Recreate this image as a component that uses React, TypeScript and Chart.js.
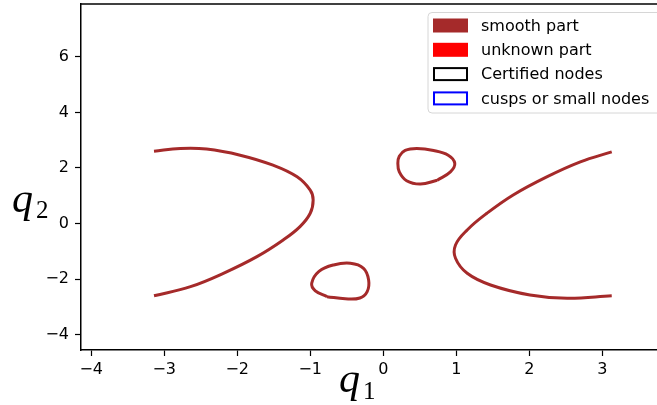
import React, { useEffect, useRef } from "react";
import { Chart, registerables } from "chart.js";

Chart.register(...registerables);

// Left branch of the curve
const leftBranchX = [-3.14, -2.78, -2.42, -1.96, -1.51, -1.18, -1.0, -0.96, -1.0, -1.14, -1.37, -1.73, -2.19, -2.64, -3.14];
const leftBranchY = [2.6, 2.7, 2.68, 2.46, 2.1, 1.68, 1.2, 0.85, 0.37, -0.11, -0.59, -1.19, -1.79, -2.27, -2.6];

// Right branch of the curve
const rightBranchX = [3.13, 2.7, 2.24, 1.78, 1.42, 1.15, 0.99, 0.99, 1.15, 1.47, 2.01, 2.52, 3.13];
const rightBranchY = [2.58, 2.22, 1.68, 1.03, 0.37, -0.23, -0.77, -1.25, -1.79, -2.21, -2.57, -2.69, -2.6];

// Upper oval (closed loop)
const upperOvalX = [0.74, 0.51, 0.32, 0.22, 0.2, 0.22, 0.3, 0.46, 0.69, 0.89, 0.98, 0.92, 0.74];
const upperOvalY = [1.56, 1.42, 1.54, 1.86, 2.17, 2.42, 2.63, 2.7, 2.63, 2.46, 2.17, 1.86, 1.56];

// Lower oval (closed loop)
const lowerOvalX = [-0.77, -0.93, -0.98, -0.88, -0.68, -0.45, -0.27, -0.2, -0.22, -0.32, -0.52, -0.77];
const lowerOvalY = [-2.63, -2.42, -2.15, -1.72, -1.49, -1.43, -1.61, -2.03, -2.45, -2.68, -2.71, -2.63];

const xTicks = [-4, -3, -2, -1, 0, 1, 2, 3];
const yTicks = [-4, -2, 0, 2, 4, 6];

const legendLabels = ["smooth part", "unknown part", "Certified nodes", "cusps or small nodes"];
const SMOOTH = "#a52a2a";

const toPts = (xs: number[], ys: number[]) => xs.map((x, i) => ({ x, y: ys[i] }));

const fmt = (v: number) => String(v).replace("-", "\u2212");

const framePlugin = {
  id: "framePlugin",
  afterDraw(chart: any) {
    const { ctx, chartArea } = chart;
    ctx.save();
    // top spine
    ctx.strokeStyle = "#000";
    ctx.lineWidth = 1.5;
    ctx.beginPath();
    ctx.moveTo(chartArea.left - 0.75, chartArea.top);
    ctx.lineTo(chartArea.right + 2, chartArea.top);
    ctx.stroke();

    // legend
    const lx = 428, ly = 12.5, lw = 260, lh = 100.5, r = 4;
    ctx.beginPath();
    ctx.moveTo(lx + r, ly);
    ctx.lineTo(lx + lw - r, ly);
    ctx.arcTo(lx + lw, ly, lx + lw, ly + r, r);
    ctx.lineTo(lx + lw, ly + lh - r);
    ctx.arcTo(lx + lw, ly + lh, lx + lw - r, ly + lh, r);
    ctx.lineTo(lx + r, ly + lh);
    ctx.arcTo(lx, ly + lh, lx, ly + lh - r, r);
    ctx.lineTo(lx, ly + r);
    ctx.arcTo(lx, ly, lx + r, ly, r);
    ctx.closePath();
    ctx.fillStyle = "rgba(255,255,255,0.8)";
    ctx.fill();
    ctx.strokeStyle = "#d6d6d6";
    ctx.lineWidth = 1;
    ctx.stroke();

    const styles = [
      { fill: SMOOTH, stroke: null },
      { fill: "#ff0000", stroke: null },
      { fill: "#ffffff", stroke: "#000000" },
      { fill: "#ffffff", stroke: "#0000ff" },
    ];
    ctx.font = "16px 'DejaVu Sans'";
    ctx.textBaseline = "middle";
    ctx.textAlign = "left";
    legendLabels.forEach((lab, i) => {
      const cy = 25.5 + i * 24.3;
      const st = styles[i];
      ctx.fillStyle = st.fill;
      ctx.fillRect(433, cy - 7, 35, 14);
      if (st.stroke) {
        ctx.strokeStyle = st.stroke;
        ctx.lineWidth = 2;
        ctx.strokeRect(434, cy - 6, 33, 12);
      }
      ctx.fillStyle = "#000";
      ctx.fillText(lab, 481, cy + 1);
    });

    // axis labels
    ctx.fillStyle = "#000";
    ctx.textBaseline = "alphabetic";
    ctx.font = "italic 42px 'Liberation Serif'";
    ctx.fillText("q", 339, 392);
    ctx.fillText("q", 12, 212);
    ctx.font = "25px 'Liberation Serif'";
    ctx.fillText("1", 363, 399);
    ctx.fillText("2", 36, 218);
    ctx.restore();
  },
};

export default function App() {
  const ref = useRef<HTMLCanvasElement | null>(null);
  useEffect(() => {
    if (!ref.current) return;
    const lineDs = (label: string, xs: number[], ys: number[]) => ({
      label,
      data: toPts(xs, ys),
      showLine: true,
      borderColor: SMOOTH,
      backgroundColor: SMOOTH,
      borderWidth: 3,
      pointRadius: 0,
      tension: 0.4,
      fill: false,
    });
    const chart = new Chart(ref.current, {
      type: "scatter",
      data: {
        datasets: [
          lineDs("smooth part", leftBranchX, leftBranchY),
          lineDs("smooth part 2", rightBranchX, rightBranchY),
          lineDs("smooth part 3", upperOvalX, upperOvalY),
          lineDs("smooth part 4", lowerOvalX, lowerOvalY),
        ],
      },
      options: {
        responsive: false,
        animation: false,
        layout: { padding: { left: 0, top: 4, right: 0, bottom: 0 } },
        plugins: { legend: { display: false }, tooltip: { enabled: false } },
        scales: {
          x: {
            type: "linear",
            min: -4.14,
            max: 3.75,
            afterBuildTicks: (s: any) => {
              s.ticks = xTicks.map((v) => ({ value: v }));
            },
            afterFit: (s: any) => {
              s.height = 55;
              s.paddingLeft = 0;
              s.paddingRight = 0;
            },
            grid: { drawOnChartArea: false, color: "#000", tickLength: 6, tickWidth: 1.2 },
            border: { display: true, color: "#000", width: 1.5 },
            ticks: {
              color: "#000",
              font: { family: "'DejaVu Sans'", size: 16 },
              padding: 4,
              maxRotation: 0,
              autoSkip: false,
              callback: (v: any) => fmt(Number(v)),
            },
          },
          y: {
            type: "linear",
            min: -4.55,
            max: 7.9,
            afterBuildTicks: (s: any) => {
              s.ticks = yTicks.map((v) => ({ value: v }));
            },
            afterFit: (s: any) => {
              s.width = 81;
              s.paddingTop = 0;
              s.paddingBottom = 0;
            },
            grid: { drawOnChartArea: false, color: "#000", tickLength: 6, tickWidth: 1.2 },
            border: { display: true, color: "#000", width: 1.5 },
            ticks: {
              color: "#000",
              font: { family: "'DejaVu Sans'", size: 16 },
              padding: 6,
              autoSkip: false,
              callback: (v: any) => fmt(Number(v)),
            },
          },
        },
      },
      plugins: [framePlugin],
    });
    return () => chart.destroy();
  }, []);
  return (
    <div style={{ position: "fixed", left: 0, top: 0, width: 657, height: 405, background: "#fff", overflow: "hidden" }}>
      <canvas ref={ref} width={657} height={405} style={{ display: "block" }} />
    </div>
  );
}
